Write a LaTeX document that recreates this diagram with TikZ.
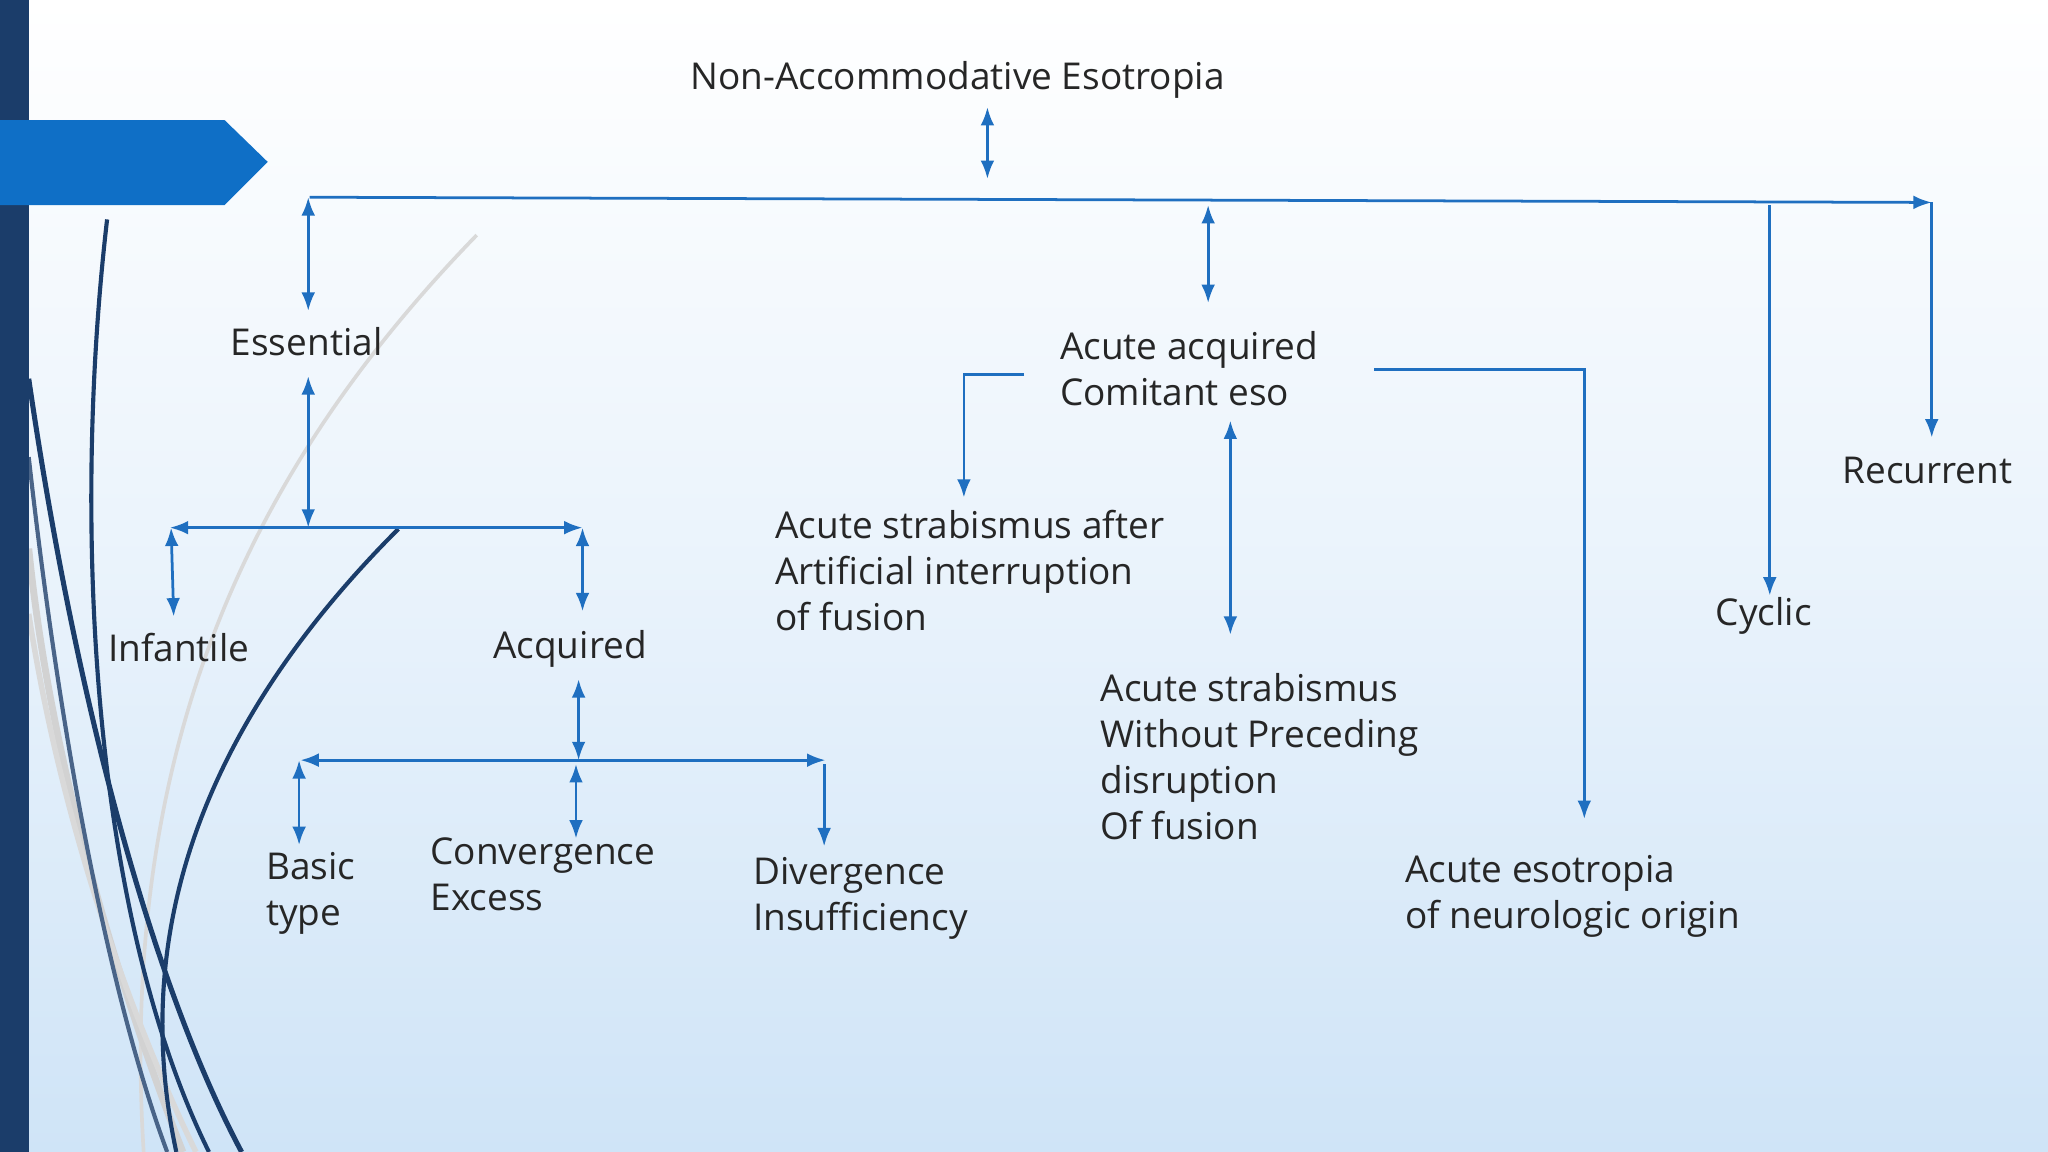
\documentclass[tikz,border=0pt]{standalone}
\usepackage{fontspec}
\setmainfont{Open Sans}
\usetikzlibrary{arrows.meta}
\begin{document}
\begin{tikzpicture}[x=0.01cm,y=-0.01cm,
  con/.style={draw=lk,line width=0.6pt,-{Latex[length=4pt,width=3pt]}},
  bi/.style={draw=lk,line width=0.6pt,{Latex[length=4pt,width=3pt]}-{Latex[length=4pt,width=3pt]}},
  ln/.style={draw=lk,line width=0.6pt},
  t/.style={anchor=north west,inner sep=0pt,align=left,font=\fontsize{8.05}{10}\selectfont,text=black!85}]
\definecolor{lk}{HTML}{1F6FC0}
\definecolor{navy}{HTML}{1B3D6A}
\definecolor{tab}{HTML}{0F6FC6}
\definecolor{bgb}{HTML}{CFE4F7}
\useasboundingbox (0,0) rectangle (1568,882);
\shade[top color=white,bottom color=bgb,middle color=white!55!bgb] (0,0) rectangle (1568,882);
% decorative curves
\draw[gray!30,line width=0.8pt] (365,180) .. controls (200,350) and (90,560) .. (110,882);
\draw[gray!35,line width=1.5pt] (22,420) .. controls (40,600) and (100,780) .. (140,882);
\draw[gray!30,line width=1.2pt] (22,470) .. controls (50,650) and (110,800) .. (150,882);
\draw[navy,line width=0.9pt] (82,168) .. controls (55,400) and (70,700) .. (160,882);
\draw[navy,line width=1.1pt] (22,290) .. controls (60,550) and (120,760) .. (185,882);
\draw[navy,line width=0.9pt] (305,405) .. controls (150,560) and (100,720) .. (135,882);
\draw[navy!80,line width=0.9pt] (22,350) .. controls (50,600) and (90,780) .. (128,882);
\fill[navy] (0,0) rectangle (22,882);
\fill[tab] (0,92) -- (172,92) -- (205,124) -- (172,157) -- (0,157) -- cycle;
% nodes
\node[t] (root) at (528,46) {Non-Accommodative Esotropia};
\node[t] (ess) at (176,250) {Essential};
\node[t] (aac) at (811,253) {Acute acquired\\Comitant eso};
\node[t] (rec) at (1410,349) {Recurrent};
\node[t] (cyc) at (1313,457) {Cyclic};
\node[t] (asa) at (593,390) {Acute strabismus after\\Artificial interruption\\of fusion};
\node[t] (asw) at (842,515) {Acute strabismus\\Without Preceding\\disruption\\Of fusion};
\node[t] (aen) at (1075,654) {Acute esotropia\\of neurologic origin};
\node[t] (inf) at (82,484) {Infantile};
\node[t] (acq) at (377,482) {Acquired};
\node[t] (bas) at (203,652) {Basic\\type};
\node[t] (cex) at (329,641) {Convergence\\Excess};
\node[t] (din) at (576,656) {Divergence\\Insufficiency};
% coordinates
\coordinate (h1l) at (237,151); \coordinate (h1r) at (1479,155);
\coordinate (h1m) at (925,157); \coordinate (h1c) at (1355,157);
\coordinate (h2l) at (130,404); \coordinate (h2r) at (446,404); \coordinate (h2m) at (236,404);
\coordinate (h3l) at (230,582); \coordinate (h3r) at (632,582); \coordinate (h3m) at (443,582);
% connectors
\draw[bi] (756,82) -- (756,137);
\draw[con] (h1l) -- (h1r);
\draw[bi] (236,151) -- (236,238);
\draw[con] (1479,155) -- (1479,335);
\draw[bi] (h1m) -- (925,232);
\draw[con] (h1c) -- (1355,456);
\draw[bi] (236,288) -- (h2m);
\draw[bi] (h2l) -- (h2r);
\draw[bi] (131,404) -- (133,472);
\draw[bi] (446,404) -- (446,468);
\draw[bi] (443,520) -- (h3m);
\draw[bi] (h3l) -- (h3r);
\draw[bi] (229,582) -- (229,647);
\draw[bi] (441,585) -- (441,642);
\draw[con] (631,585) -- (631,648);
\draw[con] (784,287) -- (738,287) -- (738,381);
\draw[bi] (942,322) -- (942,486);
\draw[con] (1052,283) -- (1213,283) -- (1213,627);
\end{tikzpicture}
\end{document}
